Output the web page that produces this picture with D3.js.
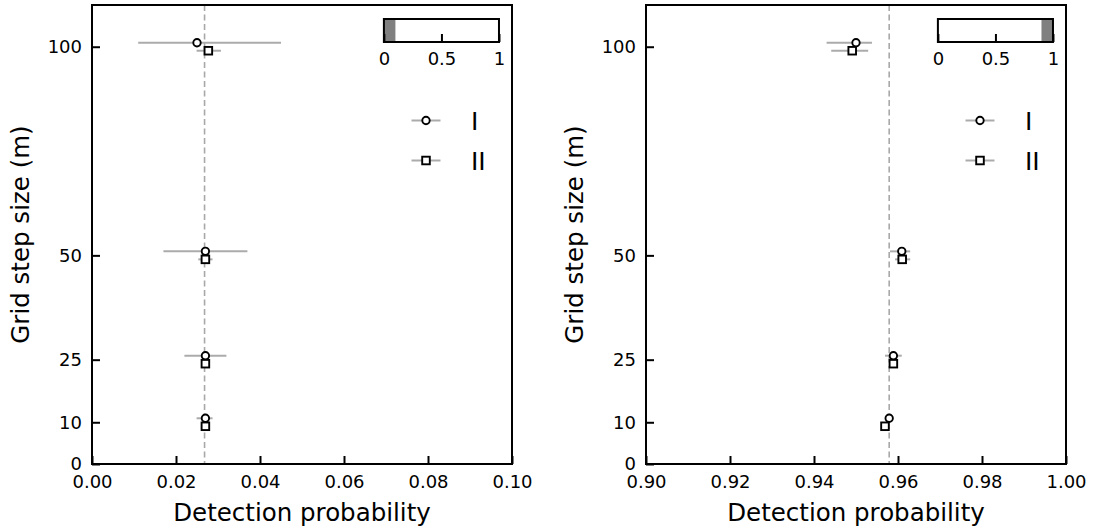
<!DOCTYPE html>
<html>
<head>
<meta charset="utf-8">
<script src="https://cdn.jsdelivr.net/npm/d3@7"></script>
<style>
  html, body { margin: 0; padding: 0; background: #fff; }
  svg { display: block; }
  text { font-family: "DejaVu Sans", sans-serif; fill: #000; }
</style>
</head>
<body>
<svg id="chart" width="1094" height="531"></svg>
<script>
// Grid step sizes (m) shared by both panels
const gridSteps = [10, 25, 50, 100];
const yTickValues = [0, 10, 25, 50, 100];

// Panel A: low detection probability
const leftTicks = [0.00, 0.02, 0.04, 0.06, 0.08, 0.10];
const leftTickLabels = ["0.00", "0.02", "0.04", "0.06", "0.08", "0.10"];
const leftMeanI  = [0.027, 0.027, 0.027, 0.025];
const leftLoI    = [0.0249, 0.022, 0.017, 0.011];
const leftHiI    = [0.0287, 0.032, 0.037, 0.045];
const leftMeanII = [0.027, 0.027, 0.027, 0.0277];
const leftLoII   = [0.0265, 0.0262, 0.0253, 0.0249];
const leftHiII   = [0.0275, 0.0278, 0.0287, 0.0307];
const leftRef = 0.0268;
const leftRange = [0.0, 0.1];

// Panel B: high detection probability
const rightTicks = [0.90, 0.92, 0.94, 0.96, 0.98, 1.00];
const rightTickLabels = ["0.90", "0.92", "0.94", "0.96", "0.98", "1.00"];
const rightMeanI  = [0.9579, 0.9589, 0.9609, 0.9500];
const rightLoI    = [0.9573, 0.9569, 0.9581, 0.9430];
const rightHiI    = [0.9585, 0.9609, 0.9629, 0.9538];
const rightMeanII = [0.9569, 0.9589, 0.9610, 0.9491];
const rightLoII   = [0.9564, 0.9583, 0.9593, 0.9441];
const rightHiII   = [0.9574, 0.9595, 0.9629, 0.9529];
const rightRef = 0.9579;
const rightRange = [0.9, 1.0];

// Overview strip ticks
const insetTicks = [0, 0.5, 1];
const insetTickLabels = ["0", "0.5", "1"];

const seriesNames = ["I", "II"];
const xLabel = "Detection probability";
const yLabel = "Grid step size (m)";

const svg = d3.select("#chart");
const TOP = 5, BOTTOM = 464, PW = 420;
const DODGE = 4;            // vertical offset between the two series (px)
const ERR_COLOR = "#ababab";
const TICK_FONT = 18, LABEL_FONT = 24.5;

const y = d3.scaleLinear().domain([0, 110]).range([BOTTOM, TOP]);

function makeSeries(mean, lo, hi) {
  return gridSteps.map((g, i) => ({ g, m: mean[i], lo: lo[i], hi: hi[i] }));
}

function styleAxis(a) {
  a.select(".domain").remove();
  a.selectAll(".tick line").attr("stroke", "#000").attr("stroke-width", 2);
  a.selectAll(".tick text").attr("font-size", TICK_FONT)
    .attr("font-family", "'DejaVu Sans', sans-serif").attr("fill", "#000");
}

function drawMarker(sel, shape) {
  if (shape === "circle") {
    sel.append("circle").attr("r", 3.7);
  } else {
    sel.append("rect").attr("x", -3.8).attr("y", -3.8).attr("width", 7.6).attr("height", 7.6);
  }
  sel.selectAll("circle,rect").attr("fill", "#fff").attr("stroke", "#000").attr("stroke-width", 1.9);
}

function drawPanel(left, ticks, tickLabels, range, ref, sI, sII) {
  const x = d3.scaleLinear().domain(range).range([left, left + PW]);
  const g = svg.append("g");

  // reference line
  g.append("line")
    .attr("x1", x(ref)).attr("x2", x(ref))
    .attr("y1", TOP).attr("y2", BOTTOM)
    .attr("stroke", "#a8a8a8").attr("stroke-width", 1.6)
    .attr("stroke-dasharray", "6,3.5");

  const series = [
    { data: sI, dy: -DODGE, shape: "circle" },
    { data: sII, dy: DODGE, shape: "square" }
  ];

  // error bars
  series.forEach(s => {
    g.append("g").selectAll("line").data(s.data).join("line")
      .attr("x1", d => x(d.lo)).attr("x2", d => x(d.hi))
      .attr("y1", d => y(d.g) + s.dy).attr("y2", d => y(d.g) + s.dy)
      .attr("stroke", ERR_COLOR).attr("stroke-width", 2);
  });
  // markers
  series.forEach(s => {
    g.append("g").selectAll("g").data(s.data).join("g")
      .attr("transform", d => `translate(${x(d.m)},${y(d.g) + s.dy})`)
      .each(function () { drawMarker(d3.select(this), s.shape); });
  });

  // axes with inward ticks
  const xAxis = d3.axisBottom(x).tickValues(ticks)
    .tickFormat((d, i) => tickLabels[i])
    .tickSizeInner(-8).tickSizeOuter(0).tickPadding(11);
  styleAxis(g.append("g").attr("transform", `translate(0,${BOTTOM})`).call(xAxis));
  const yAxis = d3.axisLeft(y).tickValues(yTickValues)
    .tickSizeInner(-8).tickSizeOuter(0).tickPadding(10);
  styleAxis(g.append("g").attr("transform", `translate(${left},0)`).call(yAxis));

  // frame
  g.append("rect")
    .attr("x", left).attr("y", TOP).attr("width", PW).attr("height", BOTTOM - TOP)
    .attr("fill", "none").attr("stroke", "#000").attr("stroke-width", 2);

  // axis titles
  g.append("text")
    .attr("x", left + PW / 2).attr("y", 521)
    .attr("text-anchor", "middle").attr("font-size", LABEL_FONT)
    .text(xLabel);
  g.append("text")
    .attr("transform", `translate(${left - 63},${(TOP + BOTTOM) / 2}) rotate(-90)`)
    .attr("text-anchor", "middle").attr("font-size", LABEL_FONT)
    .text(yLabel);

  // overview strip: where this panel's range sits within [0, 1]
  const ix = d3.scaleLinear().domain([0, 1]).range([left + 0.695 * PW, left + 0.969 * PW]);
  const iTop = 19, iBot = 42;
  const ig = g.append("g");
  ig.append("rect").attr("x", ix(0)).attr("y", iTop).attr("width", ix(1) - ix(0))
    .attr("height", iBot - iTop).attr("fill", "#fff");
  ig.append("rect").attr("x", ix(range[0])).attr("y", iTop)
    .attr("width", ix(range[1]) - ix(range[0])).attr("height", iBot - iTop)
    .attr("fill", "#808080");
  const iAxis = d3.axisBottom(ix).tickValues(insetTicks)
    .tickFormat((d, i) => insetTickLabels[i])
    .tickSizeInner(-8).tickSizeOuter(0).tickPadding(10);
  styleAxis(ig.append("g").attr("transform", `translate(0,${iBot})`).call(iAxis));
  ig.append("rect").attr("x", ix(0)).attr("y", iTop).attr("width", ix(1) - ix(0))
    .attr("height", iBot - iTop).attr("fill", "none")
    .attr("stroke", "#000").attr("stroke-width", 2);

  // legend
  const lx = left + PW - 86;
  const lg = g.append("g");
  series.forEach((s, i) => {
    const ly = 120.5 + i * 40;
    lg.append("line").attr("x1", lx - 14.5).attr("x2", lx + 14.5)
      .attr("y1", ly).attr("y2", ly)
      .attr("stroke", ERR_COLOR).attr("stroke-width", 2);
    drawMarker(lg.append("g").attr("transform", `translate(${lx},${ly})`), s.shape);
    lg.append("text").attr("x", lx + 45).attr("y", ly + 9)
      .attr("font-size", 25).text(seriesNames[i]);
  });
}

drawPanel(92, leftTicks, leftTickLabels, leftRange, leftRef,
  makeSeries(leftMeanI, leftLoI, leftHiI), makeSeries(leftMeanII, leftLoII, leftHiII));
drawPanel(646, rightTicks, rightTickLabels, rightRange, rightRef,
  makeSeries(rightMeanI, rightLoI, rightHiI), makeSeries(rightMeanII, rightLoII, rightHiII));
</script>
</body>
</html>
